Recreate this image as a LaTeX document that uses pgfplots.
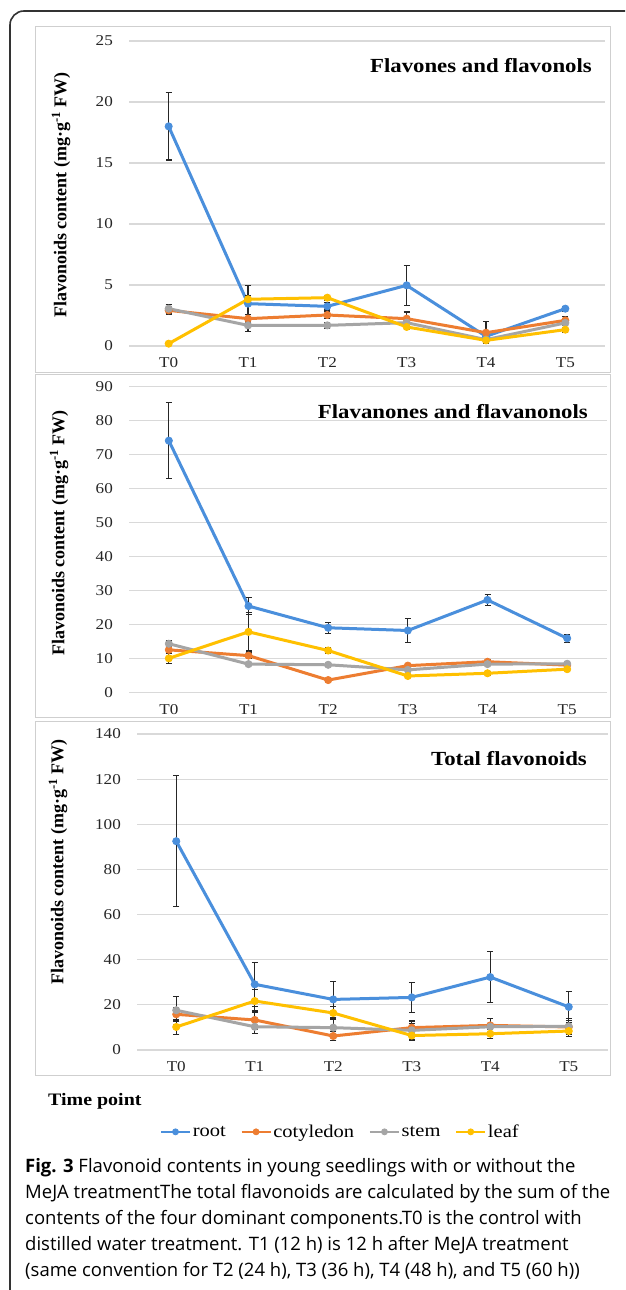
\documentclass[border=0pt]{standalone}
\usepackage{fontspec}
\setmainfont{Liberation Serif}
\newfontfamily\sserif{Liberation Serif}[FakeStretch=1.14]
\newfontfamily\capfont{Open Sans}
\usepackage{pgfplots}
\pgfplotsset{compat=1.18}
\definecolor{croot}{HTML}{4A8FDC}
\definecolor{ccot}{HTML}{ED7D31}
\definecolor{cstem}{HTML}{A5A5A5}
\definecolor{cleaf}{HTML}{FFC000}
\definecolor{cgrid}{HTML}{D9D9D9}
\definecolor{cframe}{HTML}{CFCFCF}
\pgfplotsset{
 panel/.style={
  scale only axis,
  xmin=-0.5, xmax=5.5, ymin=0,
  xtick={0,1,2,3,4,5}, xticklabels={T0,T1,T2,T3,T4,T5},
  axis line style={draw=none}, tick style={draw=none},
  ymajorgrids, grid style={cgrid, line width=1.2pt},
  ticklabel style={font=\sserif\fontsize{15}{18}\selectfont, text=black!85},
  /pgf/number format/assume math mode=true,
  yticklabel style={inner sep=0pt, anchor=east, xshift=-16pt},
  xticklabel style={inner sep=0pt, anchor=center, yshift=-17pt},
  clip=false,
 },
 ser/.style={#1, line width=3pt, mark=*, mark size=3.6pt,
  mark options={line width=0.8pt, fill=#1, draw=#1},
  error bars/y dir=both, error bars/y explicit,
  error bars/error bar style={line width=1.3pt, black!85},
  error bars/error mark options={rotate=90, mark size=3pt, line width=1.3pt, black!85}},
}
\begin{document}
\begin{tikzpicture}
\useasboundingbox (0,0) rectangle (625pt,1290pt);
\fill[white] (0,0) rectangle (625pt,1290pt);
\begin{scope}
\clip (0,0) rectangle (625pt,1290pt);
\draw[line width=1.6pt, black!80, rounded corners=14pt] (10pt,-20pt) -- (10pt,1279pt) -- (660pt,1279pt);
\end{scope}
% panel frames
\draw[cframe, line width=1pt] (35pt,1263.3pt) rectangle (610pt,917.3pt);
\draw[cframe, line width=1pt] (35pt,915pt) rectangle (610pt,572pt);
\draw[cframe, line width=1pt] (35pt,568pt) rectangle (610pt,214pt);

% Panel 1
\begin{axis}[panel, at={(129pt,944pt)}, anchor=south west, width=476pt, height=305pt,
  ymax=25, ytick={0,5,...,25}]
\addplot[ser=croot] coordinates {(0,18.0) +- (0,2.75) (1,3.47) +- (0,1.5) (2,3.25) +- (0,0.3) (3,4.97) +- (0,1.65) (4,0.79) +- (0,0.3) (5,3.06) +- (0,0.2)};
\addplot[ser=ccot] coordinates {(0,2.92) +- (0,0.3) (1,2.24) +- (0,0.35) (2,2.54) +- (0,0.3) (3,2.24) +- (0,0.55) (4,1.09) +- (0,0.9) (5,2.1) +- (0,0.3)};
\addplot[ser=cstem] coordinates {(0,3.06) +- (0,0.35) (1,1.69) +- (0,0.5) (2,1.69) +- (0,0.25) (3,1.91) +- (0,0.4) (4,0.52) +- (0,0.3) (5,1.89) +- (0,0.2)};
\addplot[ser=cleaf] coordinates {(0,0.19) +- (0,0.05) (1,3.83) +- (0,0.3) (2,3.96) +- (0,0.2) (3,1.56) +- (0,0.2) (4,0.46) +- (0,0.2) (5,1.34) +- (0,0.2)};
\end{axis}

% Panel 2
\begin{axis}[panel, at={(129pt,597.7pt)}, anchor=south west, width=478pt, height=305.6pt,
  ymax=90, ytick={0,10,...,90}]
\addplot[ser=croot] coordinates {(0,74.1) +- (0,11.2) (1,25.4) +- (0,2.5) (2,19.0) +- (0,1.6) (3,18.2) +- (0,3.5) (4,27.2) +- (0,1.7) (5,15.9) +- (0,1.2)};
\addplot[ser=ccot] coordinates {(0,12.5) +- (0,1.0) (1,10.8) +- (0,0.8) (2,3.6) +- (0,0.5) (3,7.85) +- (0,0.6) (4,9.0) +- (0,0.6) (5,8.0) +- (0,0.5)};
\addplot[ser=cstem] coordinates {(0,14.3) +- (0,0.8) (1,8.3) +- (0,0.5) (2,8.1) +- (0,0.5) (3,6.6) +- (0,0.5) (4,8.3) +- (0,0.5) (5,8.4) +- (0,0.5)};
\addplot[ser=cleaf] coordinates {(0,10.0) +- (0,1.5) (1,17.8) +- (0,5.6) (2,12.3) +- (0,0.8) (3,4.8) +- (0,0.5) (4,5.6) +- (0,0.5) (5,6.8) +- (0,0.5)};
\end{axis}

% Panel 3
\begin{axis}[panel, at={(137pt,240pt)}, anchor=south west, width=471pt, height=316pt,
  ymax=140, ytick={0,20,...,140},
  legend columns=4,
  legend style={at={(0.431,-0.259)}, anchor=center, draw=none, fill=none,
    font=\sserif\fontsize{18}{20}\selectfont,
    nodes={inner xsep=1.5pt, inner ysep=1pt},
    /tikz/every even column/.append style={column sep=13pt}},
  legend image code/.code={\draw[line width=2.5pt, mark repeat=2, mark phase=2, mark size=3pt] plot coordinates {(0pt,0pt) (14.5pt,0pt) (29pt,0pt)};}]
\addplot[ser=croot] coordinates {(0,92.5) +- (0,29) (1,29.1) +- (0,9.7) (2,22.4) +- (0,7.9) (3,23.3) +- (0,6.7) (4,32.3) +- (0,11.4) (5,19.1) +- (0,6.9)};
\addplot[ser=ccot] coordinates {(0,15.8) +- (0,3) (1,13.3) +- (0,4) (2,6.2) +- (0,2) (3,9.9) +- (0,3) (4,10.9) +- (0,3) (5,10.2) +- (0,3)};
\addplot[ser=cstem] coordinates {(0,17.6) +- (0,6.2) (1,10.3) +- (0,3) (2,9.9) +- (0,4) (3,8.7) +- (0,3) (4,10.3) +- (0,3.5) (5,10.5) +- (0,3.5)};
\addplot[ser=cleaf] coordinates {(0,10.2) +- (0,3.3) (1,21.7) +- (0,5) (2,16.4) +- (0,3) (3,6.4) +- (0,2) (4,7.2) +- (0,2) (5,8.4) +- (0,2.5)};
\legend{root,cotyledon,stem,leaf}
\end{axis}

% y labels
\node[rotate=90, font=\rmfamily\bfseries\fontsize{18}{20}\selectfont] at (61pt,1095pt) {Flavonoids content (mg·g\textsuperscript{-1} FW)};
\node[rotate=90, font=\rmfamily\bfseries\fontsize{18}{20}\selectfont] at (59pt,757pt) {Flavonoids content (mg·g\textsuperscript{-1} FW)};
\node[rotate=90, font=\rmfamily\bfseries\fontsize{18}{20}\selectfont] at (58pt,428pt) {Flavonoids content (mg·g\textsuperscript{-1} FW)};
% titles
\node[anchor=east, inner sep=0pt, font=\sserif\bfseries\fontsize{20}{24}\selectfont] at (592pt,1224pt) {Flavones and flavonols};
\node[anchor=east, inner sep=0pt, font=\sserif\bfseries\fontsize{20}{24}\selectfont] at (588pt,878.3pt) {Flavanones and flavanonols};
\node[anchor=east, inner sep=0pt, font=\sserif\bfseries\fontsize{20}{24}\selectfont] at (587pt,531pt) {Total flavonoids};
% time point
\node[anchor=west, inner sep=0pt, font=\sserif\bfseries\fontsize{17.5}{20}\selectfont] at (48pt,189pt) {Time point};
% caption
\begin{scope}[every node/.style={anchor=base west, inner sep=0pt, font=\capfont\fontsize{18.5}{26}\selectfont}]
\node at (25pt,117pt) {\textbf{Fig. 3} Flavonoid contents in young seedlings with or without the};
\node at (25pt,91pt) {MeJA treatmentThe total flavonoids are calculated by the sum of the};
\node at (25pt,65pt) {contents of the four dominant components.T0 is the control with};
\node at (25pt,39pt) {distilled water treatment. T1 (12 h) is 12 h after MeJA treatment};
\node at (25pt,13pt) {(same convention for T2 (24 h), T3 (36 h), T4 (48 h), and T5 (60 h))};
\end{scope}
\end{tikzpicture}
\end{document}
